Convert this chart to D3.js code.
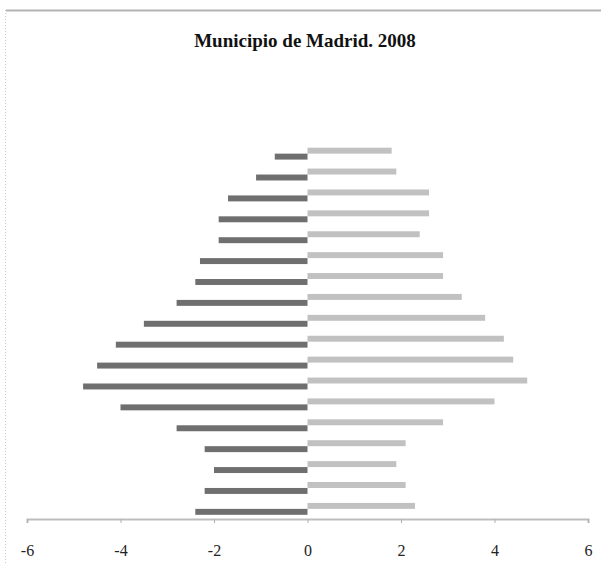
<!DOCTYPE html>
<html>
<head>
<meta charset="utf-8">
<script src="https://cdn.jsdelivr.net/npm/d3@7"></script>
<style>
  html, body { margin: 0; padding: 0; background: #fff; }
  svg { display: block; }
</style>
</head>
<body>
<svg id="chart" width="601" height="563"></svg>
<script>
// Age groups, bottom (youngest) to top (oldest)
const categories = ["0-4","5-9","10-14","15-19","20-24","25-29","30-34","35-39","40-44",
                    "45-49","50-54","55-59","60-64","65-69","70-74","75-79","80-84","85+"];
// Men (negative, dark) and women (positive, light), % of population
const men   = [-2.4, -2.2, -2.0, -2.2, -2.8, -4.0, -4.8, -4.5, -4.1,
               -3.5, -2.8, -2.4, -2.3, -1.9, -1.9, -1.7, -1.1, -0.7];
const women = [ 2.3,  2.1,  1.9,  2.1,  2.9,  4.0,  4.7,  4.4,  4.2,
                3.8,  3.3,  2.9,  2.9,  2.4,  2.6,  2.6,  1.9,  1.8];
const seriesNames = ["Mujeres", "Hombres"];
const xTicks = [-6, -4, -2, 0, 2, 4, 6];
const title = "Municipio de Madrid. 2008";

const svg = d3.select("#chart");

// Chart frame (top solid line, left dotted line)
svg.append("line").attr("x1", 6).attr("x2", 601).attr("y1", 10.5).attr("y2", 10.5)
  .attr("stroke", "#b4b4b4").attr("stroke-width", 2);
svg.append("line").attr("x1", 5.5).attr("x2", 5.5).attr("y1", 10).attr("y2", 563)
  .attr("stroke", "#c8c8c8").attr("stroke-width", 1).attr("stroke-dasharray", "1,2");

// Title
svg.append("text")
  .attr("x", 305).attr("y", 47)
  .attr("text-anchor", "middle")
  .style("font-family", "'Liberation Serif', 'DejaVu Serif', serif")
  .style("font-weight", "bold")
  .style("font-size", "19px")
  .attr("fill", "#111")
  .text(title);

// Scales
const x = d3.scaleLinear().domain([-6, 6]).range([27, 588]);
const y = d3.scaleBand()
  .domain(categories.slice().reverse())
  .range([143.5, 519])
  .paddingInner(0.43)
  .paddingOuter(0.2);
const ySub = d3.scaleBand().domain(seriesNames).range([0, y.bandwidth()]);

const rows = categories.map((c, i) => ({ cat: c, men: men[i], women: women[i] }));

// Women bars (upper, light)
svg.append("g").selectAll("rect").data(rows).join("rect")
  .attr("x", x(0))
  .attr("y", d => y(d.cat) + ySub("Mujeres"))
  .attr("width", d => x(d.women) - x(0))
  .attr("height", ySub.bandwidth())
  .attr("fill", "#c1c1c1");

// Men bars (lower, dark)
svg.append("g").selectAll("rect").data(rows).join("rect")
  .attr("x", d => x(d.men))
  .attr("y", d => y(d.cat) + ySub("Hombres"))
  .attr("width", d => x(0) - x(d.men))
  .attr("height", ySub.bandwidth())
  .attr("fill", "#6f6f6f");

// X axis
const axis = svg.append("g")
  .attr("transform", "translate(0,519)")
  .call(d3.axisBottom(x).tickValues(xTicks).tickFormat(d => String(d)).tickSize(4).tickPadding(22));
axis.select(".domain").attr("stroke", "#bdbdbd").attr("stroke-width", 2);
axis.selectAll(".tick line").attr("stroke", "#b0b0b0");
axis.selectAll(".tick text")
  .style("font-family", "'Liberation Serif', 'DejaVu Serif', serif")
  .style("font-size", "16px")
  .attr("fill", "#222");
</script>
</body>
</html>
